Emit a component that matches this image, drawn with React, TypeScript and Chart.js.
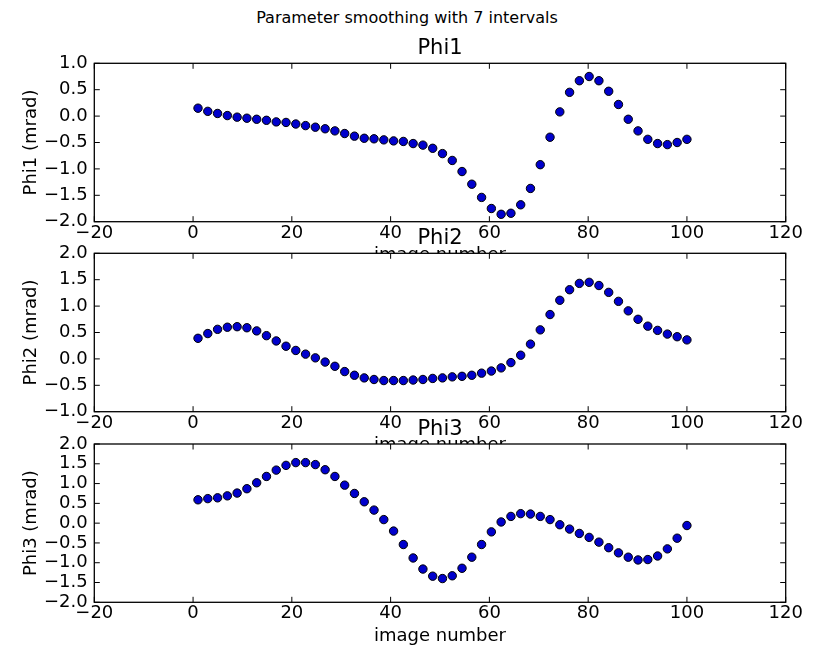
import React, { useEffect, useRef } from 'react';
import { Chart, registerables } from 'chart.js';

Chart.register(...registerables);

// ---- data ----
const imageNumbers = [
  1.0, 2.98, 4.96, 6.94, 8.92, 10.9, 12.88, 14.86, 16.84, 18.82,
  20.8, 22.78, 24.76, 26.74, 28.72, 30.7, 32.68, 34.66, 36.64, 38.62,
  40.6, 42.58, 44.56, 46.54, 48.52, 50.5, 52.48, 54.46, 56.44, 58.42,
  60.4, 62.38, 64.36, 66.34, 68.32, 70.3, 72.28, 74.26, 76.24, 78.22,
  80.2, 82.18, 84.16, 86.14, 88.12, 90.1, 92.08, 94.06, 96.04, 98.02, 100.0,
];

const phi1 = [
  0.15, 0.09, 0.05, 0.01, -0.02, -0.04, -0.06, -0.08, -0.11, -0.12,
  -0.15, -0.18, -0.21, -0.24, -0.28, -0.33, -0.38, -0.42, -0.43, -0.45,
  -0.47, -0.48, -0.52, -0.55, -0.61, -0.71, -0.84, -1.05, -1.29, -1.54,
  -1.75, -1.86, -1.84, -1.68, -1.37, -0.92, -0.4, 0.08, 0.45, 0.67,
  0.75, 0.67, 0.47, 0.22, -0.06, -0.28, -0.44, -0.52, -0.54, -0.5, -0.44,
];

const phi2 = [
  0.39, 0.48, 0.56, 0.6, 0.61, 0.59, 0.53, 0.44, 0.34, 0.24,
  0.16, 0.09, 0.02, -0.06, -0.14, -0.24, -0.31, -0.36, -0.39, -0.41,
  -0.41, -0.41, -0.4, -0.39, -0.37, -0.36, -0.34, -0.33, -0.31, -0.27,
  -0.23, -0.17, -0.07, 0.07, 0.28, 0.55, 0.84, 1.11, 1.31, 1.43,
  1.45, 1.39, 1.26, 1.09, 0.91, 0.75, 0.62, 0.54, 0.47, 0.42, 0.36,
];

const phi3 = [
  0.59, 0.62, 0.64, 0.69, 0.76, 0.87, 1.02, 1.18, 1.34, 1.46,
  1.53, 1.53, 1.48, 1.35, 1.18, 0.96, 0.75, 0.54, 0.33, 0.09,
  -0.2, -0.54, -0.88, -1.16, -1.34, -1.4, -1.33, -1.14, -0.86, -0.54,
  -0.22, 0.03, 0.17, 0.24, 0.23, 0.17, 0.09, -0.04, -0.15, -0.26,
  -0.36, -0.48, -0.62, -0.75, -0.86, -0.93, -0.92, -0.83, -0.65, -0.38, -0.06,
];

const xTickValues = [-20, 0, 20, 40, 60, 80, 100, 120];
const phi1TickValues = [-2.0, -1.5, -1.0, -0.5, 0.0, 0.5, 1.0];
const phi2TickValues = [-1.0, -0.5, 0.0, 0.5, 1.0, 1.5, 2.0];
const phi3TickValues = [-2.0, -1.5, -1.0, -0.5, 0.0, 0.5, 1.0, 1.5, 2.0];

const suptitle = 'Parameter smoothing with 7 intervals';
const xLabel = 'image number';

// ---- layout / style ----
const FONT = '"DejaVu Sans", "Bitstream Vera Sans", sans-serif';
const W = 814;
const H = 645;
const FRAME_LEFT = 94.3;
const FRAME_RIGHT = 785.7;
const X_AXIS_H = 42.7;
const TITLE_BLOCK = 27.2;

const panels = [
  { title: 'Phi1', ylabel: 'Phi1 (mrad)', values: phi1, ticks: phi1TickValues, top: 63.3, bottom: 221.7 },
  { title: 'Phi2', ylabel: 'Phi2 (mrad)', values: phi2, ticks: phi2TickValues, top: 253.3, bottom: 411.7 },
  { title: 'Phi3', ylabel: 'Phi3 (mrad)', values: phi3, ticks: phi3TickValues, top: 444.0, bottom: 602.3 },
];

const minus = (s: string) => s.replace('-', '\u2212');

const framePlugin = {
  id: 'mplFrame',
  beforeDraw(chart: any) {
    const { ctx, chartArea: a } = chart;
    ctx.save();
    ctx.fillStyle = '#ffffff';
    ctx.fillRect(a.left, a.top, a.right - a.left, a.bottom - a.top);
    ctx.restore();
  },
  afterDraw(chart: any) {
    const { ctx, chartArea: a, scales } = chart;
    ctx.save();
    ctx.strokeStyle = '#000000';
    ctx.lineWidth = 1.3;
    ctx.strokeRect(a.left, a.top, a.right - a.left, a.bottom - a.top);
    const L = 5.5;
    ctx.lineWidth = 1;
    ctx.beginPath();
    scales.x.ticks.forEach((t: any) => {
      const px = scales.x.getPixelForValue(t.value);
      ctx.moveTo(px, a.top);
      ctx.lineTo(px, a.top + L);
      ctx.moveTo(px, a.bottom);
      ctx.lineTo(px, a.bottom - L);
    });
    scales.y.ticks.forEach((t: any) => {
      const py = scales.y.getPixelForValue(t.value);
      ctx.moveTo(a.left, py);
      ctx.lineTo(a.left + L, py);
      ctx.moveTo(a.right, py);
      ctx.lineTo(a.right - L, py);
    });
    ctx.stroke();
    ctx.restore();
  },
};

function Panel({ p }: { p: typeof panels[number] }) {
  const ref = useRef<HTMLCanvasElement | null>(null);
  useEffect(() => {
    if (!ref.current) return;
    const tickFont = { family: FONT, size: 18, lineHeight: 1.2 };
    const labelFont = { family: FONT, size: 18, lineHeight: 1.0 };
    const chart = new Chart(ref.current, {
      type: 'scatter',
      data: {
        datasets: [
          {
            data: imageNumbers.map((x, i) => ({ x, y: p.values[i] })),
            backgroundColor: '#0000cc',
            borderColor: '#000000',
            borderWidth: 1,
            pointRadius: 4.2,
            pointHoverRadius: 4.2,
            showLine: false,
          },
        ],
      },
      options: {
        responsive: false,
        maintainAspectRatio: false,
        animation: false,
        events: [],
        layout: {
          padding: {
            left: 0,
            right: W - FRAME_RIGHT,
            top: p.top - TITLE_BLOCK,
            bottom: H - p.bottom - X_AXIS_H,
          },
        },
        plugins: {
          legend: { display: false },
          tooltip: { enabled: false },
          title: {
            display: true,
            text: p.title,
            fullSize: false,
            color: '#000000',
            font: { family: FONT, size: 21, weight: 'normal', lineHeight: 1.2 },
            padding: { top: 0, bottom: 2 },
          },
        },
        scales: {
          x: {
            type: 'linear',
            position: 'bottom',
            min: xTickValues[0],
            max: xTickValues[xTickValues.length - 1],
            afterBuildTicks: (s: any) => {
              s.ticks = xTickValues.map((v) => ({ value: v }));
            },
            afterFit: (s: any) => {
              s.height = X_AXIS_H;
            },
            grid: { display: false, drawTicks: false, tickLength: 0 },
            border: { display: false },
            ticks: {
              autoSkip: false,
              maxRotation: 0,
              padding: 0.5,
              color: '#000000',
              font: tickFont,
              callback: (v: any) => minus(String(Math.round(Number(v)))),
            },
            title: {
              display: true,
              text: xLabel,
              color: '#000000',
              font: labelFont,
              padding: { top: 0, bottom: 0 },
            },
          },
          y: {
            type: 'linear',
            position: 'left',
            min: p.ticks[0],
            max: p.ticks[p.ticks.length - 1],
            afterBuildTicks: (s: any) => {
              s.ticks = p.ticks.map((v) => ({ value: v }));
            },
            afterFit: (s: any) => {
              s.width = FRAME_LEFT;
            },
            grid: { display: false, drawTicks: false, tickLength: 0 },
            border: { display: false },
            ticks: {
              autoSkip: false,
              padding: 6.6,
              color: '#000000',
              font: tickFont,
              callback: (v: any) => minus(Number(v).toFixed(1)),
            },
            title: {
              display: true,
              text: p.ylabel,
              color: '#000000',
              font: tickFont,
              padding: { top: 20.5, bottom: 0 },
            },
          },
        },
      },
      plugins: [framePlugin],
    } as any);
    return () => chart.destroy();
  }, [p]);
  return (
    <canvas
      ref={ref}
      width={W}
      height={H}
      style={{ position: 'absolute', left: 0, top: 0, width: W, height: H }}
    />
  );
}

export default function App() {
  return (
    <div
      style={{
        position: 'fixed',
        left: 0,
        top: 0,
        width: W,
        height: H,
        overflow: 'hidden',
        background: '#ffffff',
      }}
    >
      <div
        style={{
          position: 'absolute',
          left: 0,
          top: 7.5,
          width: W,
          textAlign: 'center',
          fontFamily: FONT,
          fontSize: 16,
          lineHeight: '20px',
          color: '#000000',
        }}
      >
        {suptitle}
      </div>
      {panels.map((p) => (
        <Panel key={p.title} p={p} />
      ))}
    </div>
  );
}
